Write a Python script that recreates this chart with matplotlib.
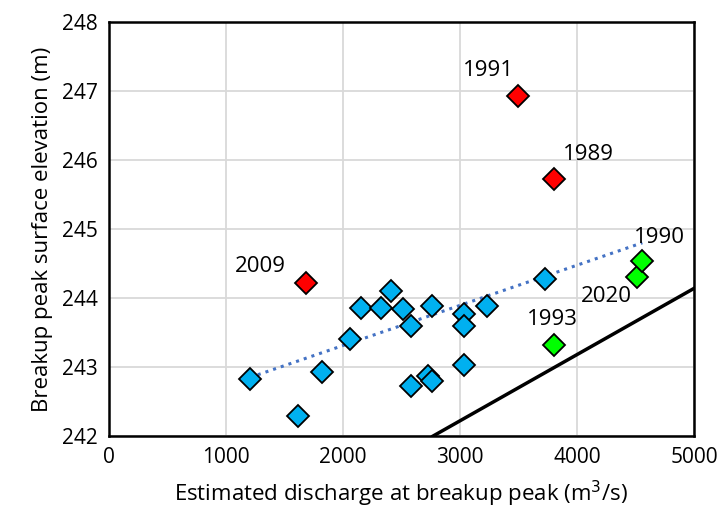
import matplotlib
matplotlib.use("Agg")
import matplotlib.pyplot as plt

plt.rcParams["font.family"] = ["Open Sans", "DejaVu Sans"]

# regular years (blue)
blue_q = [1208, 1613, 1825, 2058, 2158, 2324, 2407, 2510, 2584, 2578, 2764,
          2729, 2764, 3038, 3038, 3038, 3231, 3728]
blue_h = [242.83, 242.29, 242.93, 243.40, 243.85, 243.85, 244.10, 243.84,
          243.60, 242.73, 243.89, 242.87, 242.80, 243.77, 243.59, 243.03,
          243.89, 244.27]
# high outliers (red)
red_years = ["2009", "1991", "1989"]
red_q = [1688, 3494, 3800]
red_h = [244.22, 246.92, 245.72]
# green
green_years = ["1993", "2020", "1990"]
green_q = [3800, 4510, 4558]
green_h = [243.32, 244.31, 244.54]
# dotted trend line (as drawn)
trend_q = [1208, 4558]
trend_h = [242.85, 244.80]
# black threshold line
line_q = [2770, 5000]
line_h = [242.0, 244.14]

label_off = {"2009": (-33, 12), "1991": (-21, 19), "1989": (25, 18),
             "1993": (-1, 18), "2020": (-22, -14), "1990": (12, 17)}

fig = plt.figure(figsize=(7.2, 5.21), dpi=100)
ax = fig.add_axes([0.151, 0.163, 0.813, 0.795])

ax.grid(True, color="#d9d9d9", linewidth=1.3)
ax.set_axisbelow(True)

ax.plot(line_q, line_h, color="black", linewidth=2.5, zorder=2)
ax.plot(trend_q, trend_h, ":", color="#4472c4", linewidth=2.2, zorder=3)

mk = dict(marker="D", markersize=11, markeredgecolor="black",
          markeredgewidth=1.3, linestyle="none", zorder=4)
ax.plot(blue_q, blue_h, markerfacecolor="#00b0f0", **mk)
ax.plot(red_q, red_h, markerfacecolor="#ff0000", **mk)
ax.plot(green_q, green_h, markerfacecolor="#00ff00", **mk)

for yrs, qs, hs in ((red_years, red_q, red_h), (green_years, green_q, green_h)):
    for y, q, h in zip(yrs, qs, hs):
        ax.annotate(y, (q, h), xytext=label_off[y], textcoords="offset points",
                    ha="center", va="center", fontsize=16)

ax.set_xlim(0, 5000)
ax.set_ylim(242, 248)
ax.set_xticks(range(0, 5001, 1000))
ax.set_yticks(range(242, 249))
ax.tick_params(labelsize=15, length=0, pad=8)
for s in ax.spines.values():
    s.set_linewidth(1.8)
ax.set_xlabel("Estimated discharge at breakup peak (m$^3$/s)", fontsize=16, labelpad=8)
ax.set_ylabel("Breakup peak surface elevation (m)", fontsize=16, labelpad=6)

fig.savefig("out.png", dpi=100)
